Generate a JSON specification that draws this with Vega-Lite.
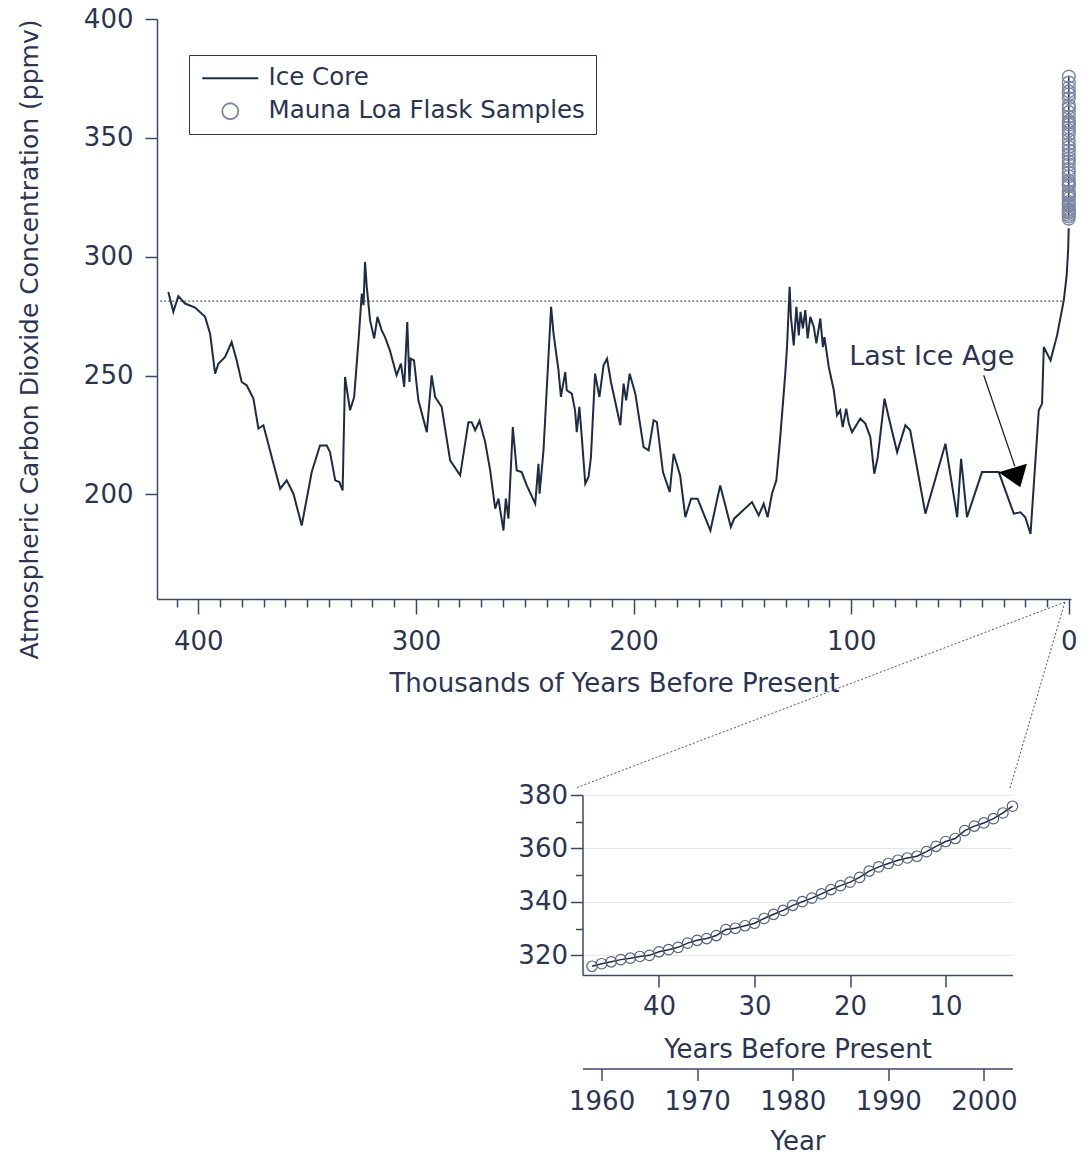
{
  "$schema": "https://vega.github.io/schema/vega-lite/v6.json",
  "padding": {"left": 17, "top": 6, "right": 5, "bottom": 5},
  "config": {
    "font": "DejaVu Sans",
    "view": {"stroke": null},
    "axis": {
      "domainColor": "#3c4766", "tickColor": "#3c4766", "domainWidth": 1.5, "tickWidth": 1.5,
      "labelColor": "#2b3452", "titleColor": "#2b3452", "labelFontSize": 26, "titleFontSize": 26,
      "titleFontWeight": "normal", "grid": false, "labelFont": "DejaVu Sans", "titleFont": "DejaVu Sans",
      "labelFlush": false, "labelOverlap": false
    },
    "legend": {"labelFont": "DejaVu Sans", "labelFontSize": 25, "labelColor": "#2b3452"}
  },
  "datasets": {
    "ice": [
      {"ka":413.8,"co2":285.2},{"ka":411.5,"co2":276.8},{"ka":409.2,"co2":283.4},{"ka":406.1,"co2":280.3},
      {"ka":401.5,"co2":278.6},{"ka":396.9,"co2":274.7},{"ka":394.6,"co2":267.6},{"ka":392.3,"co2":250.8},
      {"ka":390.8,"co2":255.0},{"ka":387.7,"co2":257.8},{"ka":384.7,"co2":264.1},{"ka":382.4,"co2":256.4},
      {"ka":380.1,"co2":247.3},{"ka":377.8,"co2":245.9},{"ka":374.7,"co2":240.3},{"ka":372.4,"co2":227.7},
      {"ka":370.1,"co2":229.1},{"ka":366.3,"co2":215.7},{"ka":362.4,"co2":202.4},{"ka":359.4,"co2":205.9},
      {"ka":356.3,"co2":200.3},{"ka":352.5,"co2":186.9},{"ka":347.9,"co2":209.4},{"ka":344.1,"co2":220.6},
      {"ka":341.0,"co2":220.6},{"ka":339.5,"co2":217.8},{"ka":337.1,"co2":205.9},{"ka":335.2,"co2":205.2},
      {"ka":333.7,"co2":201.7},{"ka":332.6,"co2":249.4},{"ka":330.3,"co2":235.4},{"ka":328.4,"co2":241.0},
      {"ka":326.4,"co2":264.8},{"ka":324.9,"co2":284.5},{"ka":324.1,"co2":279.6},{"ka":323.4,"co2":297.8},
      {"ka":322.6,"co2":287.3},{"ka":321.1,"co2":273.3},{"ka":319.2,"co2":265.6},{"ka":317.7,"co2":274.7},
      {"ka":315.8,"co2":269.1},{"ka":314.2,"co2":266.2},{"ka":312.0,"co2":260.6},{"ka":308.9,"co2":250.1},
      {"ka":306.9,"co2":255.0},{"ka":305.4,"co2":245.2},{"ka":304.0,"co2":272.5},{"ka":303.0,"co2":247.3},
      {"ka":302.4,"co2":257.1},{"ka":300.9,"co2":256.4},{"ka":298.9,"co2":239.6},{"ka":295.0,"co2":226.2},
      {"ka":292.8,"co2":250.1},{"ka":291.2,"co2":241.0},{"ka":288.2,"co2":236.8},{"ka":284.3,"co2":214.3},
      {"ka":279.7,"co2":208.0},{"ka":275.9,"co2":230.4},{"ka":274.4,"co2":230.4},{"ka":272.8,"co2":227.0},
      {"ka":270.8,"co2":230.9},{"ka":268.2,"co2":222.0},{"ka":265.9,"co2":210.1},{"ka":263.6,"co2":194.0},
      {"ka":262.1,"co2":198.2},{"ka":259.8,"co2":184.8},{"ka":258.7,"co2":198.2},{"ka":257.5,"co2":189.8},
      {"ka":255.5,"co2":228.3},{"ka":253.7,"co2":210.1},{"ka":251.4,"co2":209.4},{"ka":249.1,"co2":203.8},
      {"ka":245.2,"co2":196.1},{"ka":243.7,"co2":212.9},{"ka":243.2,"co2":200.3},{"ka":241.4,"co2":218.5},
      {"ka":237.9,"co2":278.9},{"ka":236.8,"co2":267.7},{"ka":234.5,"co2":252.2},{"ka":233.4,"co2":241.0},
      {"ka":231.4,"co2":251.5},{"ka":230.7,"co2":243.8},{"ka":228.4,"co2":242.4},{"ka":226.9,"co2":235.4},
      {"ka":226.1,"co2":226.2},{"ka":224.9,"co2":236.8},{"ka":223.8,"co2":224.1},{"ka":222.2,"co2":204.5},
      {"ka":220.7,"co2":207.3},{"ka":219.6,"co2":215.7},{"ka":217.7,"co2":250.8},{"ka":215.7,"co2":241.0},
      {"ka":213.8,"co2":254.3},{"ka":212.2,"co2":257.1},{"ka":210.4,"co2":247.3},{"ka":208.4,"co2":238.9},
      {"ka":206.1,"co2":229.1},{"ka":204.6,"co2":246.6},{"ka":203.4,"co2":239.6},{"ka":201.8,"co2":250.8},
      {"ka":199.2,"co2":242.4},{"ka":195.4,"co2":219.9},{"ka":193.1,"co2":218.5},{"ka":190.8,"co2":231.2},
      {"ka":189.3,"co2":230.4},{"ka":186.5,"co2":209.4},{"ka":183.4,"co2":201.0},{"ka":181.6,"co2":217.1},
      {"ka":178.6,"co2":208.0},{"ka":176.2,"co2":190.4},{"ka":173.6,"co2":198.2},{"ka":170.6,"co2":198.2},
      {"ka":164.7,"co2":184.8},{"ka":160.2,"co2":203.8},{"ka":155.3,"co2":186.3},{"ka":153.8,"co2":189.8},
      {"ka":145.6,"co2":196.8},{"ka":142.5,"co2":191.2},{"ka":140.2,"co2":196.1},{"ka":138.4,"co2":190.4},
      {"ka":136.4,"co2":200.3},{"ka":134.4,"co2":205.9},{"ka":132.6,"co2":224.1},{"ka":130.3,"co2":250.8},
      {"ka":129.5,"co2":262.0},{"ka":128.3,"co2":287.3},{"ka":127.7,"co2":274.7},{"ka":126.4,"co2":262.7},
      {"ka":125.2,"co2":278.9},{"ka":124.1,"co2":266.9},{"ka":123.3,"co2":276.8},{"ka":122.2,"co2":269.8},
      {"ka":121.1,"co2":277.5},{"ka":120.0,"co2":265.6},{"ka":118.8,"co2":274.7},{"ka":117.2,"co2":270.5},
      {"ka":116.0,"co2":263.5},{"ka":114.2,"co2":274.0},{"ka":113.0,"co2":262.0},{"ka":112.3,"co2":266.2},
      {"ka":110.3,"co2":253.6},{"ka":108.0,"co2":243.8},{"ka":106.5,"co2":233.3},{"ka":105.1,"co2":235.4},
      {"ka":103.9,"co2":228.3},{"ka":102.3,"co2":236.1},{"ka":101.1,"co2":229.8},{"ka":99.6,"co2":226.2},
      {"ka":95.8,"co2":231.9},{"ka":93.5,"co2":229.8},{"ka":91.2,"co2":224.1},{"ka":89.4,"co2":208.7},
      {"ka":87.8,"co2":215.7},{"ka":84.7,"co2":240.3},{"ka":82.8,"co2":232.6},{"ka":78.9,"co2":217.8},
      {"ka":75.1,"co2":229.1},{"ka":72.9,"co2":227.0},{"ka":65.9,"co2":191.9},{"ka":56.7,"co2":221.3},
      {"ka":51.3,"co2":190.4},{"ka":49.5,"co2":215.0},{"ka":46.8,"co2":190.4},{"ka":39.9,"co2":209.4},
      {"ka":32.2,"co2":209.4},{"ka":25.3,"co2":191.9},{"ka":22.2,"co2":192.5},{"ka":20.0,"co2":190.4},
      {"ka":17.6,"co2":183.4},{"ka":13.8,"co2":235.4},{"ka":12.3,"co2":238.2},{"ka":11.5,"co2":262.0},
      {"ka":8.4,"co2":256.4},{"ka":5.4,"co2":266.9},{"ka":2.3,"co2":281.7},{"ka":1.0,"co2":292.0},
      {"ka":0.3,"co2":303.0},{"ka":0.05,"co2":312.0}
    ],
    "mlo": [
      {"year":1959,"ybp":47,"ka":0.047,"co2":315.97},{"year":1960,"ybp":46,"ka":0.046,"co2":316.91},
      {"year":1961,"ybp":45,"ka":0.045,"co2":317.64},{"year":1962,"ybp":44,"ka":0.044,"co2":318.45},
      {"year":1963,"ybp":43,"ka":0.043,"co2":318.99},{"year":1964,"ybp":42,"ka":0.042,"co2":319.62},
      {"year":1965,"ybp":41,"ka":0.041,"co2":320.04},{"year":1966,"ybp":40,"ka":0.040,"co2":321.38},
      {"year":1967,"ybp":39,"ka":0.039,"co2":322.16},{"year":1968,"ybp":38,"ka":0.038,"co2":323.04},
      {"year":1969,"ybp":37,"ka":0.037,"co2":324.62},{"year":1970,"ybp":36,"ka":0.036,"co2":325.68},
      {"year":1971,"ybp":35,"ka":0.035,"co2":326.32},{"year":1972,"ybp":34,"ka":0.034,"co2":327.45},
      {"year":1973,"ybp":33,"ka":0.033,"co2":329.68},{"year":1974,"ybp":32,"ka":0.032,"co2":330.18},
      {"year":1975,"ybp":31,"ka":0.031,"co2":331.11},{"year":1976,"ybp":30,"ka":0.030,"co2":332.04},
      {"year":1977,"ybp":29,"ka":0.029,"co2":333.83},{"year":1978,"ybp":28,"ka":0.028,"co2":335.40},
      {"year":1979,"ybp":27,"ka":0.027,"co2":336.84},{"year":1980,"ybp":26,"ka":0.026,"co2":338.75},
      {"year":1981,"ybp":25,"ka":0.025,"co2":340.11},{"year":1982,"ybp":24,"ka":0.024,"co2":341.45},
      {"year":1983,"ybp":23,"ka":0.023,"co2":343.05},{"year":1984,"ybp":22,"ka":0.022,"co2":344.65},
      {"year":1985,"ybp":21,"ka":0.021,"co2":346.12},{"year":1986,"ybp":20,"ka":0.020,"co2":347.42},
      {"year":1987,"ybp":19,"ka":0.019,"co2":349.19},{"year":1988,"ybp":18,"ka":0.018,"co2":351.57},
      {"year":1989,"ybp":17,"ka":0.017,"co2":353.12},{"year":1990,"ybp":16,"ka":0.016,"co2":354.39},
      {"year":1991,"ybp":15,"ka":0.015,"co2":355.61},{"year":1992,"ybp":14,"ka":0.014,"co2":356.45},
      {"year":1993,"ybp":13,"ka":0.013,"co2":357.10},{"year":1994,"ybp":12,"ka":0.012,"co2":358.83},
      {"year":1995,"ybp":11,"ka":0.011,"co2":360.82},{"year":1996,"ybp":10,"ka":0.010,"co2":362.61},
      {"year":1997,"ybp":9,"ka":0.009,"co2":363.73},{"year":1998,"ybp":8,"ka":0.008,"co2":366.70},
      {"year":1999,"ybp":7,"ka":0.007,"co2":368.38},{"year":2000,"ybp":6,"ka":0.006,"co2":369.55},
      {"year":2001,"ybp":5,"ka":0.005,"co2":371.14},{"year":2002,"ybp":4,"ka":0.004,"co2":373.28},
      {"year":2003,"ybp":3,"ka":0.003,"co2":375.80}
    ],
    "note": [{"ka":63.0,"co2":254.3,"label":"Last Ice Age"}],
    "arrow": [{"ka":39.1,"co2":250.1,"ka2":24.8,"co22":211.8}],
    "arrowhead": [{"ka":24.6,"co2":208.4}],
    "connectors": [
      {"ka":1.8,"co2":154.7,"ka2":226.5,"co22":76.5},
      {"ka":1.8,"co2":154.7,"ka2":27.0,"co22":76.5}
    ],
    "hline": [{"ka":417.5,"ka2":2.5,"co2":281.3}]
  },
  "bounds": "flush",
  "spacing": 196,
  "vconcat": [
    {
      "width": 914,
      "height": 580,
      "resolve": {"scale": {"x": "independent"}},
      "layer": [
        {
          "layer": [
            {
              "data": {"name": "ice"},
              "mark": {"type": "line", "color": "#1f2a44", "strokeWidth": 2},
              "encoding": {
                "x": {"field": "ka", "type": "quantitative",
                  "scale": {"domain": [419, -1], "nice": false, "zero": false},
                  "axis": {"values": [400, 300, 200, 100, 0], "title": "Thousands of Years Before Present",
                    "tickSize": 15, "labelPadding": 14, "titlePadding": 16, "orient": "bottom"}},
                "y": {"field": "co2", "type": "quantitative",
                  "scale": {"domain": [156, 400], "nice": false, "zero": false},
                  "axis": {"values": [200, 250, 300, 350, 400], "title": "Atmospheric Carbon Dioxide Concentration (ppmv)",
                    "titleFontSize": 25, "tickSize": 12, "labelPadding": 12, "titleX": -128, "titleY": 320,
                    "titleBaseline": "middle", "titleAngle": -90}}
              }
            },
            {
              "data": {"name": "mlo"},
              "mark": {"type": "line", "color": "#1f2a44", "strokeWidth": 1.5},
              "encoding": {
                "x": {"field": "ka", "type": "quantitative"},
                "y": {"field": "co2", "type": "quantitative"}
              }
            },
            {
              "data": {"name": "mlo"},
              "mark": {"type": "point", "filled": false, "size": 160, "strokeWidth": 1.4, "opacity": 1},
              "encoding": {
                "x": {"field": "ka", "type": "quantitative"},
                "y": {"field": "co2", "type": "quantitative"},
                "stroke": {"datum": "Mauna Loa Flask Samples", "type": "nominal",
                  "scale": {"domain": ["Ice Core", "Mauna Loa Flask Samples"], "range": ["#1f2a44", "#7d87a3"]}},
                "shape": {"datum": "Mauna Loa Flask Samples", "type": "nominal",
                  "scale": {"domain": ["Ice Core", "Mauna Loa Flask Samples"], "range": ["M-3.5,0H3.5", "circle"]},
                  "legend": {"title": null, "orient": "none", "legendX": 32, "legendY": 36,
                    "strokeColor": "#2b3452", "fillColor": "white", "padding": 11,
                    "symbolSize": 256, "symbolOffset": 18, "labelOffset": 26, "rowPadding": 8,
                    "symbolStrokeWidth": 1.8,
                    "labelFontSize": 24.5, "labelLimit": 0,
                    "encode": {
                      "legend": {"strokeWidth": {"value": 1.5}},
                      "symbols": {"fill": {"value": "transparent"}, "opacity": {"value": 1}}}}}
              }
            },
            {
              "data": {"name": "note"},
              "mark": {"type": "text", "fontSize": 27, "color": "#2b3452", "align": "center", "baseline": "alphabetic"},
              "encoding": {
                "x": {"field": "ka", "type": "quantitative"},
                "y": {"field": "co2", "type": "quantitative"},
                "text": {"field": "label"}
              }
            },
            {
              "data": {"name": "arrow"},
              "mark": {"type": "rule", "color": "#1a1f2e", "strokeWidth": 1.3},
              "encoding": {
                "x": {"field": "ka", "type": "quantitative"},
                "x2": {"field": "ka2"},
                "y": {"field": "co2", "type": "quantitative"},
                "y2": {"field": "co22"}
              }
            },
            {
              "data": {"name": "arrowhead"},
              "mark": {"type": "point", "shape": "M-16.7,-2.2L11.6,-10.6L5,12.8Z", "size": 4, "filled": true, "color": "#000000", "opacity": 1},
              "encoding": {
                "x": {"field": "ka", "type": "quantitative"},
                "y": {"field": "co2", "type": "quantitative"}
              }
            },
            {
              "data": {"name": "connectors"},
              "mark": {"type": "rule", "color": "#4a5570", "strokeWidth": 1, "strokeDash": [2, 2]},
              "encoding": {
                "x": {"field": "ka", "type": "quantitative"},
                "x2": {"field": "ka2"},
                "y": {"field": "co2", "type": "quantitative"},
                "y2": {"field": "co22"}
              }
            }
          ]
        },
        {
          "data": {"name": "hline"},
          "mark": {"type": "rule", "color": "#2b3452", "strokeWidth": 1, "strokeDash": [2, 2]},
          "encoding": {
            "x": {"field": "ka", "type": "quantitative",
              "scale": {"domain": [419, -1], "nice": false, "zero": false},
              "axis": {"orient": "bottom", "values": [410,390,380,370,360,350,340,330,320,310,290,280,270,260,250,240,230,220,210,190,180,170,160,150,140,130,120,110,90,80,70,60,50,40,30,20,10],
                "labels": false, "domain": false, "title": null, "tickSize": 8}},
            "x2": {"field": "ka2"},
            "y": {"field": "co2", "type": "quantitative",
              "scale": {"domain": [156, 400], "nice": false, "zero": false}}
          }
        }
      ]
    },
    {
      "bounds": "flush",
      "spacing": 10.5,
      "hconcat": [
        {
          "width": 415,
          "height": 1,
          "data": {"values": [{"t": ""}]},
          "mark": {"type": "text"},
          "encoding": {"text": {"field": "t"}}
        },
        {
          "width": 430,
          "height": 180,
          "data": {"name": "mlo"},
          "resolve": {"scale": {"x": "independent", "y": "independent"}},
          "layer": [
            {
              "mark": {"type": "line", "color": "#1f2a44", "strokeWidth": 1.5},
              "encoding": {
                "x": {"field": "year", "type": "quantitative",
                  "scale": {"domain": [1958, 2003], "nice": false, "zero": false},
                  "axis": {"orient": "bottom", "offset": 93.5, "values": [1960, 1970, 1980, 1990, 2000],
                    "format": "d", "title": "Year", "tickSize": 12, "labelPadding": 8, "titlePadding": 14}},
                "y": {"field": "co2", "type": "quantitative",
                  "scale": {"domain": [312.7, 380], "nice": false, "zero": false},
                  "axis": {"orient": "left", "values": [330, 350, 370], "labels": false, "domain": false,
                    "title": null, "tickSize": 7}}
              }
            },
            {
              "mark": {"type": "point", "filled": false, "size": 110, "color": "#56607e", "strokeWidth": 1.2, "opacity": 1},
              "encoding": {
                "x": {"field": "ybp", "type": "quantitative",
                  "scale": {"domain": [48, 3], "nice": false, "zero": false},
                  "axis": {"orient": "bottom", "values": [40, 30, 20, 10], "title": "Years Before Present",
                    "tickSize": 12, "labelPadding": 6, "titlePadding": 17}},
                "y": {"field": "co2", "type": "quantitative",
                  "scale": {"domain": [312.7, 380], "nice": false, "zero": false},
                  "axis": {"orient": "left", "values": [320, 340, 360, 380], "title": null, "tickSize": 12,
                    "labelPadding": 3, "grid": true, "gridColor": "#e6e8ee", "gridWidth": 1}}
              }
            }
          ]
        }
      ]
    }
  ]
}
